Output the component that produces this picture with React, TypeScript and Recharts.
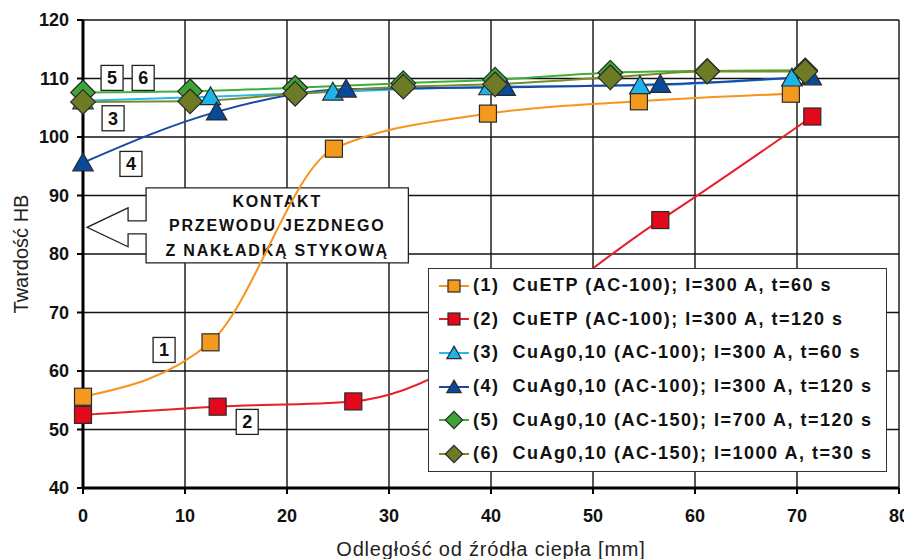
import React from 'react';
import {
  CartesianGrid,
  Legend,
  Line,
  LineChart,
  ReferenceArea,
  ReferenceDot,
  XAxis,
  YAxis,
} from 'recharts';

// measured points, one pair of arrays per series
const s1X = [0, 12.5, 24.6, 39.7, 54.5, 69.4];
const s1Y = [55.6, 64.9, 98.0, 104.0, 106.1, 107.4];
const s2X = [0, 13.2, 26.5, 56.6, 71.5];
const s2Y = [52.5, 53.9, 54.8, 85.8, 103.5];
const s3X = [0, 12.5, 24.5, 39.8, 54.6, 69.5];
const s3Y = [106.2, 106.9, 107.7, 108.6, 108.8, 110.1];
const s4X = [0, 13.1, 25.8, 41.4, 56.6, 71.4];
const s4Y = [95.6, 104.3, 108.2, 108.5, 109.0, 110.3];
const s5X = [0, 10.5, 20.8, 31.4, 40.4, 51.7, 61.2, 70.8];
const s5Y = [107.6, 107.8, 108.4, 109.2, 109.8, 111.0, 111.3, 111.4];
const s6X = [0, 10.5, 20.8, 31.4, 40.4, 51.7, 61.2, 70.8];
const s6Y = [106.0, 106.1, 107.4, 108.6, 109.0, 110.2, 111.2, 111.2];

const seriesNames = [
  '(1)  CuETP (AC-100); I=300 A, t=60 s',
  '(2)  CuETP (AC-100); I=300 A, t=120 s',
  '(3)  CuAg0,10 (AC-100); I=300 A, t=60 s',
  '(4)  CuAg0,10 (AC-100); I=300 A, t=120 s',
  '(5)  CuAg0,10 (AC-150); I=700 A, t=120 s',
  '(6)  CuAg0,10 (AC-150); I=1000 A, t=30 s',
];

const xTicks = [0, 10, 20, 30, 40, 50, 60, 70, 80];
const yTicks = [40, 50, 60, 70, 80, 90, 100, 110, 120];

// number tags placed next to the curves (x, y in data units)
const tagText = ['5', '6', '3', '4', '1', '2'];
const tagX = [2.85, 5.9, 2.95, 4.7, 7.95, 16.1];
const tagY = [110.1, 110.1, 103.2, 95.4, 63.6, 51.3];

const calloutLines = ['KONTAKT', 'PRZEWODU JEZDNEGO', 'Z NAKŁADKĄ STYKOWĄ'];

const FONT = '"Liberation Sans", Arial, sans-serif';

const toRows = (xs: number[], ys: number[]) => xs.map((x, i) => ({ x, y: ys[i] }));

type Marker = 'square' | 'triangle' | 'diamond';

const series = [
  { name: seriesNames[0], data: toRows(s1X, s1Y), line: '#f7941d', fill: '#f39a1e', marker: 'square' as Marker },
  { name: seriesNames[1], data: toRows(s2X, s2Y), line: '#ea1c24', fill: '#e1091b', marker: 'square' as Marker },
  { name: seriesNames[2], data: toRows(s3X, s3Y), line: '#29b8ea', fill: '#1eb4ea', marker: 'triangle' as Marker },
  { name: seriesNames[3], data: toRows(s4X, s4Y), line: '#1d46a8', fill: '#0a4a9a', marker: 'triangle' as Marker },
  { name: seriesNames[4], data: toRows(s5X, s5Y), line: '#3fae3a', fill: '#3ca535', marker: 'diamond' as Marker },
  { name: seriesNames[5], data: toRows(s6X, s6Y), line: '#7b8a2c', fill: '#6c7b24', marker: 'diamond' as Marker },
];

function markerShape(kind: Marker, cx: number, cy: number, s: number, fill: string, key?: string) {
  const stroke = '#2a2a2a';
  if (kind === 'square') {
    return <rect key={key} x={cx - s} y={cy - s} width={s * 2} height={s * 2} fill={fill} stroke={stroke} strokeWidth={1.2} />;
  }
  if (kind === 'triangle') {
    const w = s * 1.2;
    const d = `M${cx},${cy - s * 1.15} L${cx + w},${cy + s * 0.95} L${cx - w},${cy + s * 0.95} Z`;
    return <path key={key} d={d} fill={fill} stroke={stroke} strokeWidth={1.2} />;
  }
  const r = s * 1.45;
  const d = `M${cx},${cy - r} L${cx + r},${cy} L${cx},${cy + r} L${cx - r},${cy} Z`;
  return <path key={key} d={d} fill={fill} stroke={stroke} strokeWidth={1.2} />;
}

const makeDot = (kind: Marker, fill: string) => (props: any) => {
  const { cx, cy, index } = props;
  if (cx == null || cy == null) return <g key={`e${index}`} />;
  return markerShape(kind, cx, cy, 8.5, fill, `m${index}`);
};

const Tag = (text: string) => (props: any) => {
  const { cx, cy } = props;
  return (
    <g>
      <rect x={cx - 11} y={cy - 12.5} width={22} height={25} fill="#fff" stroke="#222" strokeWidth={1.3} />
      <text x={cx} y={cy + 6.5} textAnchor="middle" fontFamily={FONT} fontWeight="bold" fontSize={18} fill="#111">
        {text}
      </text>
    </g>
  );
};

const Callout = (props: any) => {
  const { x, y, width, height } = props;
  const bx = x + 59;
  const right = x + width;
  const bottom = y + height;
  const my = y + height / 2 + 2;
  const d = [
    `M${bx},${y}`,
    `L${right},${y}`,
    `L${right},${bottom}`,
    `L${bx},${bottom}`,
    `L${bx},${my + 6.5}`,
    `L${x + 41},${my + 6.5}`,
    `L${x + 41},${my + 19.5}`,
    `L${x},${my}`,
    `L${x + 41},${my - 19.5}`,
    `L${x + 41},${my - 6.5}`,
    `L${bx},${my - 6.5}`,
    'Z',
  ].join(' ');
  const tx = (bx + right) / 2;
  return (
    <g>
      <path d={d} fill="#fff" stroke="#222" strokeWidth={1.3} />
      {calloutLines.map((t, i) => (
        <text
          key={t}
          x={tx}
          y={y + 19 + i * 24.5}
          textAnchor="middle"
          fontFamily={FONT}
          fontWeight="bold"
          fontSize={16}
          letterSpacing={1.8}
          fill="#111"
        >
          {t}
        </text>
      ))}
    </g>
  );
};

const LegendBox = () => (
  <div
    style={{
      width: 459,
      height: 204,
      boxSizing: 'border-box',
      border: '1.5px solid #333',
      background: '#fff',
      fontFamily: FONT,
      fontWeight: 'bold',
      fontSize: 18,
      color: '#111',
    }}
  >
    {series.map((s, i) => (
      <div key={i} style={{ display: 'flex', alignItems: 'center', height: 33.6 }}>
        <svg width={36} height={24} style={{ marginLeft: 8, flex: 'none' }}>
          <line x1={2} y1={12} x2={32} y2={12} stroke={s.line} strokeWidth={2} />
          {markerShape(s.marker, 17, 12, 6, s.fill)}
        </svg>
        <span style={{ whiteSpace: 'pre', letterSpacing: 1.5 }}>{s.name}</span>
      </div>
    ))}
  </div>
);

export default function App() {
  return (
    <LineChart width={904} height={551} margin={{ top: 12, right: 13, left: 0, bottom: 0 }}>
      <CartesianGrid stroke="#111" strokeWidth={1.4} horizontalValues={yTicks} verticalValues={xTicks} />
      <XAxis
        type="number"
        dataKey="x"
        domain={[0, 80]}
        ticks={xTicks}
        height={71}
        axisLine={{ stroke: '#000', strokeWidth: 3 }}
        tickLine={{ stroke: '#000', strokeWidth: 2 }}
        tickSize={6}
        tickMargin={15}
        tick={{ fill: '#111', fontFamily: FONT, fontWeight: 'bold', fontSize: 18 }}
        label={{
          value: 'Odległość od źródła ciepła [mm]',
          position: 'insideBottom',
          offset: 3,
          style: { fill: '#222', fontFamily: FONT, fontSize: 20, letterSpacing: 0.8 },
        }}
      />
      <YAxis
        type="number"
        domain={[40, 120]}
        ticks={yTicks}
        width={75}
        axisLine={{ stroke: '#000', strokeWidth: 3 }}
        tickLine={{ stroke: '#000', strokeWidth: 2 }}
        tickSize={6}
        tickMargin={8}
        tick={{ fill: '#111', fontFamily: FONT, fontWeight: 'bold', fontSize: 18 }}
        label={{
          value: 'Twardość HB',
          angle: -90,
          position: 'insideLeft',
          offset: 13,
          style: { fill: '#222', fontFamily: FONT, fontSize: 20, textAnchor: 'middle' },
        }}
      />
      {series.map((s) => (
        <Line
          key={s.name}
          name={s.name}
          data={s.data}
          dataKey="y"
          type="monotone"
          stroke={s.line}
          strokeWidth={2}
          dot={makeDot(s.marker, s.fill)}
          activeDot={false}
          isAnimationActive={false}
        />
      ))}
      <ReferenceArea x1={0.4} x2={31.9} y1={78.5} y2={91.3} shape={Callout} />
      {tagText.map((t, i) => (
        <ReferenceDot key={t} x={tagX[i]} y={tagY[i]} r={0} shape={Tag(t)} />
      ))}
      <Legend
        layout="vertical"
        align="center"
        verticalAlign="middle"
        wrapperStyle={{ left: 420, top: 260, width: 459, height: 204 }}
        content={() => <LegendBox />}
      />
    </LineChart>
  );
}
